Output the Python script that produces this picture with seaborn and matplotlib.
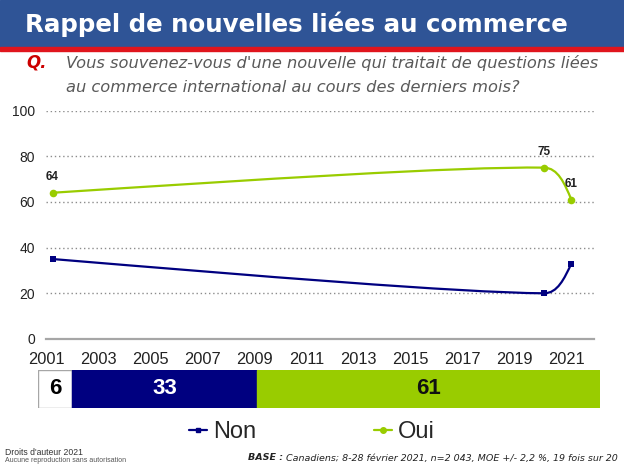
import matplotlib
matplotlib.use("Agg")
import matplotlib.pyplot as plt
import numpy as np
import pandas as pd
import seaborn as sns
from matplotlib.path import Path
from matplotlib.patches import PathPatch, Rectangle
from matplotlib.lines import Line2D

# data
years = [2001.25, 2020.12, 2021.17]
oui = [64, 75, 61]
non = [35, 20, 33]
xticks = list(range(2001, 2022, 2))
yticks = [0, 20, 40, 60, 80, 100]
bar_labels = ["NSP", "Non", "Oui"]
bar_values = [6, 33, 61]

GREEN = "#99CC00"
NAVY = "#000080"
BLUE = "#2F5496"
RED = "#E0151D"

sns.set_theme(style="white")
plt.rcParams["font.family"] = ["Liberation Sans", "DejaVu Sans"]

W, H = 624, 468
fig = plt.figure(figsize=(W / 100, H / 100), dpi=100)
fig.patch.set_facecolor("white")


def fx(px):
    return px / W


def fy(py):
    return 1 - py / H


def fit_width(txt, target_px):
    """Scale a text's font size so its rendered width matches target_px."""
    r = fig.canvas.get_renderer()
    w = txt.get_window_extent(r).width
    txt.set_fontsize(txt.get_fontsize() * target_px / w)


# title band
fig.patches.append(Rectangle((0, fy(47)), 1, 47 / H, transform=fig.transFigure,
                             color=BLUE, zorder=0))
fig.patches.append(Rectangle((0, fy(50.5)), 1, 3.5 / H, transform=fig.transFigure,
                             color=RED, zorder=0))
title = fig.text(fx(25), fy(24), "Rappel de nouvelles liées au commerce",
                 color="white", fontweight="bold", fontsize=20,
                 family="DejaVu Sans", va="center", ha="left")
fit_width(title, 546)

fig.text(fx(26), fy(63), "Q.", color="#CC0000", fontweight="bold",
         fontstyle="italic", fontsize=12, family="DejaVu Sans", va="center")
q1 = fig.text(fx(66), fy(63), "Vous souvenez-vous d'une nouvelle qui traitait de questions liées",
              color="#595959", fontstyle="italic", fontsize=11, family="DejaVu Sans",
              va="center")
fit_width(q1, 532)
q2 = fig.text(fx(66), fy(87), "au commerce international au cours des derniers mois?",
              color="#595959", fontstyle="italic", fontsize=q1.get_fontsize(),
              family="DejaVu Sans", va="center")

# main line chart
ax = fig.add_axes([fx(46), fy(339), fx(594) - fx(46), fy(110.5) - fy(339)])
ax.set_xlim(2001, 2022.04)
ax.set_ylim(0, 100)
ax.set_yticks(yticks)
ax.set_xticks(xticks)
for s in ["top", "right", "left"]:
    ax.spines[s].set_visible(False)
ax.spines["bottom"].set_color("#A6A6A6")
ax.spines["bottom"].set_linewidth(1.6)
ax.tick_params(axis="y", length=0, pad=8, labelsize=10, labelcolor="#222222")
ax.tick_params(axis="x", length=5, width=1.2, color="#A6A6A6", direction="out",
               pad=4, labelsize=11.8, labelcolor="#222222")
for y in yticks[1:]:
    ax.axhline(y, color="#8C8C8C", lw=1, ls=(0, (1, 2)), zorder=0)


def smooth_path(xs, ys):
    """Excel-like smoothed line through the points, built in display space."""
    pts = ax.transData.transform(np.column_stack([xs, ys]))
    n = len(pts)
    cin = [None] * n
    cout = [None] * n
    for i in range(1, n - 1):
        t = pts[i + 1] - pts[i - 1]
        u = t / np.linalg.norm(t)
        base = np.linalg.norm(t) / 6
        d_prev = min(base, np.linalg.norm(pts[i] - pts[i - 1]) / 3)
        d_next = min(base, np.linalg.norm(pts[i + 1] - pts[i]) / 3)
        cin[i] = pts[i] - u * d_prev
        cout[i] = pts[i] + u * d_next
    cout[0] = (pts[0] + cin[1]) / 2
    cin[n - 1] = (pts[n - 1] + cout[n - 2]) / 2
    verts = [pts[0]]
    codes = [Path.MOVETO]
    for i in range(n - 1):
        verts += [cout[i], cin[i + 1], pts[i + 1]]
        codes += [Path.CURVE4] * 3
    verts = ax.transData.inverted().transform(np.array(verts))
    return Path(verts, codes)


df = pd.DataFrame({"year": years * 2, "value": oui + non,
                   "series": ["Oui"] * 3 + ["Non"] * 3})

for vals, col in [(oui, GREEN), (non, NAVY)]:
    ax.add_patch(PathPatch(smooth_path(years, vals), fill=False, edgecolor=col,
                           lw=1.6, zorder=2))

sns.scatterplot(data=df[df.series == "Oui"], x="year", y="value", ax=ax,
                color=GREEN, marker="o", s=30, linewidth=0, zorder=3, legend=False)
sns.scatterplot(data=df[df.series == "Non"], x="year", y="value", ax=ax,
                color=NAVY, marker="s", s=22, linewidth=0, zorder=3, legend=False)
ax.set_xlabel("")
ax.set_ylabel("")

for x, v in zip(years, oui):
    ax.annotate(str(v), (x, v), xytext=(0, 11), textcoords="offset points",
                ha="center", va="center", fontsize=8.5, fontweight="bold",
                color="#222222")

# stacked bar of the latest wave
bx = fig.add_axes([fx(38), fy(408), fx(600) - fx(38), fy(370) - fy(408)])
bx.set_xlim(0, 100)
bx.set_ylim(-0.5, 0.5)
bx.axis("off")
colors = ["white", NAVY, GREEN]
text_colors = ["black", "white", "#111111"]
left = 0
for lab, v, c, tc in zip(bar_labels, bar_values, colors, text_colors):
    bx.barh(0, v, left=left, height=1, color=c,
            edgecolor="#A6A6A6" if c == "white" else c, lw=1)
    bx.text(left + v / 2, 0, str(v), ha="center", va="center", color=tc,
            fontsize=16, fontweight="bold")
    left += v

# legend
handles = [
    Line2D([], [], color=NAVY, marker="s", markersize=3.5, lw=1.6),
    Line2D([], [], color=GREEN, marker="o", markersize=4, lw=1.6),
]
fig.legend(handles, ["Non", "Oui"], loc="center", bbox_to_anchor=(0.5, fy(432)),
           ncol=2, frameon=False, fontsize=17, handlelength=0.75,
           handletextpad=0.25, columnspacing=5.0)

# footer
fig.text(fx(5), fy(452.5), "Droits d'auteur 2021", fontsize=6.2, color="#333333",
         va="center")
fig.text(fx(5), fy(460.5), "Aucune reproduction sans autorisation", fontsize=5,
         color="#555555", va="center")
base = fig.text(fx(618), fy(458),
                "Canadiens; 8-28 février 2021, n=2 043, MOE +/- 2,2 %, 19 fois sur 20",
                ha="right", va="center", fontstyle="italic", fontsize=7.5,
                family="DejaVu Sans", color="#222222")
fit_width(base, 330)
ax.annotate("BASE : ", xy=(0, 0.5), xycoords=base, ha="right", va="center",
            fontstyle="italic", fontweight="bold", fontsize=base.get_fontsize(),
            family="DejaVu Sans", color="#222222", annotation_clip=False)

fig.savefig("out.png", dpi=100)
